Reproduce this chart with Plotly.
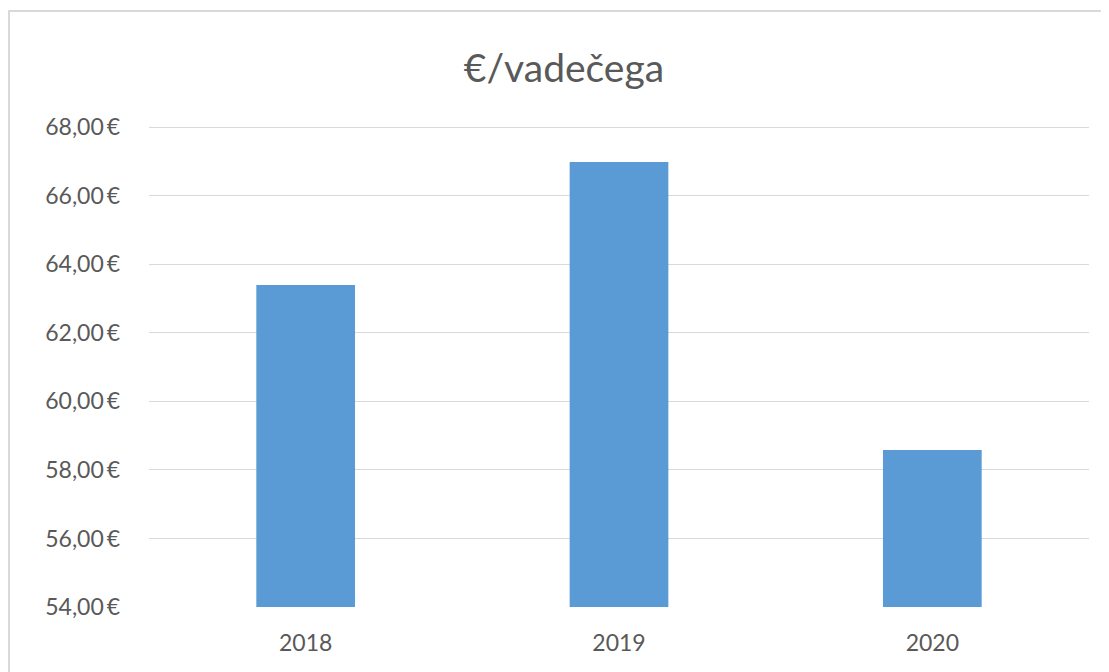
import plotly.graph_objects as go

years = ["2018", "2019", "2020"]
values = [63.39, 66.98, 58.58]
title_text = "€/vadečega"
y_ticks = [54, 56, 58, 60, 62, 64, 66, 68]
y_tick_labels = [f"{v:.2f}".replace(".", ",") + "\u2009€" for v in y_ticks]

fig = go.Figure()
fig.add_trace(go.Bar(x=years, y=values, marker=dict(color="#5B9BD5", line=dict(width=0)), width=0.315))

# page body has an 8px margin, so figure coords = reference coords - 8
W, H = 1101, 664
ml, mr, mt, mb = 141, 20, 117, 65
pw = W - ml - mr
ph = H - mt - mb

fig.update_layout(
    width=W, height=H,
    margin=dict(l=ml, r=mr, t=mt, b=mb, autoexpand=False),
    paper_bgcolor="white", plot_bgcolor="white",
    font=dict(family="Lato, 'Open Sans', sans-serif", color="#595959", size=23),
    title=dict(text=title_text, xref="container", x=556 / W, xanchor="center",
               yref="container", y=1 - 60 / H, yanchor="middle",
               font=dict(size=39, color="#595959")),
    showlegend=False,
    bargap=0.685,
    xaxis=dict(showgrid=False, showline=False, ticks="", zeroline=False,
               ticklabelstandoff=20, tickfont=dict(size=23, color="#595959")),
    yaxis=dict(range=[54, 68.06], tickmode="array", tickvals=y_ticks, ticktext=y_tick_labels,
               showgrid=True, gridcolor="#D9D9D9", gridwidth=1,
               zeroline=False, showline=False, ticks="",
               ticklabelstandoff=28, tickfont=dict(size=23, color="#595959")),
    shapes=[dict(type="rect", xref="paper", yref="paper",
                 x0=(1 - ml) / pw, x1=(1125 - ml) / pw,
                 y0=(H - mb - 700) / ph, y1=(H - mb - 3) / ph,
                 line=dict(color="#D9D9D9", width=2), fillcolor="rgba(0,0,0,0)", layer="below")],
)

fig.write_html("out.html")
